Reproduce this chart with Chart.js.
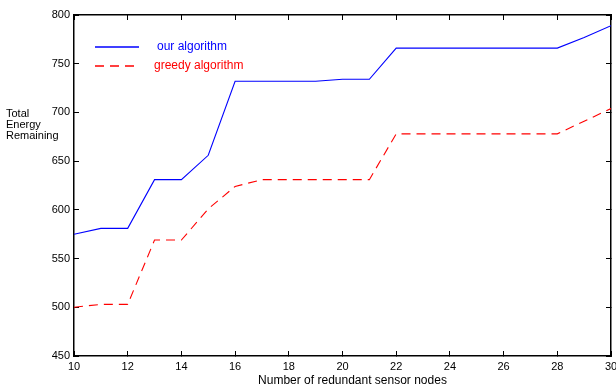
<!DOCTYPE html>
<html><head><meta charset="utf-8">
<script src="https://cdn.jsdelivr.net/npm/chart.js@4/dist/chart.umd.min.js"></script>
<style>html,body{margin:0;padding:0;background:#fff}#wrap{width:616px;height:388px;position:relative}</style>
</head><body><div id="wrap"><canvas id="c"></canvas></div>
<script>
const nodes = [10,11,12,13,14,15,16,17,18,19,20,21,22,23,24,25,26,27,28,29,30];
const ourAlgorithm = [575,581,581,631,631,656,732,732,732,732,734,734,766,766,766,766,766,766,766,777,789];
const greedyAlgorithm = [500,503,503,569,569,601,624,631,631,631,631,631,678,678,678,678,678,678,678,691,704];
const seriesLabels = ['our algorithm','greedy algorithm'];
const xTicks = [10,12,14,16,18,20,22,24,26,28,30];
const yTicks = [450,500,550,600,650,700,750,800];
const yTitleLines = ['Total','Energy','Remaining'];
const xTitle = 'Number of redundant sensor nodes';

const FONT = "'Liberation Sans', Arial, Helvetica, sans-serif";
Chart.defaults.font.family = FONT;
Chart.defaults.color = '#000';

const gridOpts = {drawOnChartArea:false, drawTicks:true, tickLength:-5, color:'#000', lineWidth:1};
const borderOpts = {display:true, color:'#000', width:1.5};

const legendPlugin = {
  id:'inlineLegend',
  afterDatasetsDraw(chart){
    const ctx = chart.ctx;
    const rows = [{y:47, tx:157},{y:66, tx:154}];
    chart.data.datasets.forEach((ds,i)=>{
      const r = rows[i];
      ctx.save();
      ctx.strokeStyle = ds.borderColor;
      ctx.lineWidth = 1.3;
      ctx.setLineDash(ds.borderDash || []);
      ctx.beginPath(); ctx.moveTo(95, r.y); ctx.lineTo(139, r.y); ctx.stroke();
      ctx.setLineDash([]);
      ctx.fillStyle = ds.borderColor;
      ctx.font = "12px " + FONT;
      ctx.textBaseline = 'middle';
      ctx.textAlign = 'left';
      ctx.fillText(ds.label, r.tx, r.y);
      ctx.restore();
    });
  }
};
const titlesPlugin = {
  id:'axisTitles',
  afterDraw(chart){
    const ctx = chart.ctx;
    ctx.save();
    ctx.fillStyle = '#000';
    ctx.font = "11px " + FONT;
    ctx.textBaseline = 'middle';
    ctx.textAlign = 'left';
    yTitleLines.forEach((t,i)=> ctx.fillText(t, 6, 114 + i*11));
    ctx.font = "12px " + FONT;
    ctx.textAlign = 'center';
    const xs = chart.scales.x;
    ctx.fillText(xTitle, (xs.left + xs.right)/2 + 10, 381);
    ctx.restore();
  }
};

const setX = s => { s.ticks = xTicks.map(v=>({value:v})); };
const setY = s => { s.ticks = yTicks.map(v=>({value:v})); };

new Chart(document.getElementById('c'), {
  type:'line',
  data:{
    datasets:[
      {label:seriesLabels[0], data:nodes.map((x,i)=>({x, y:ourAlgorithm[i]})), borderColor:'#0000ff', borderWidth:1.1, pointRadius:0, tension:0, fill:false},
      {label:seriesLabels[1], data:nodes.map((x,i)=>({x, y:greedyAlgorithm[i]})), borderColor:'#ff0000', borderWidth:1.1, borderDash:[9,6], pointRadius:0, tension:0, fill:false}
    ]
  },
  options:{
    responsive:true, maintainAspectRatio:false, animation:false,
    layout:{padding:{top:15, right:5, bottom:0, left:0}},
    plugins:{legend:{display:false}, tooltip:{enabled:false}},
    scales:{
      x:{type:'linear', position:'bottom', min:10, max:30,
        afterBuildTicks:setX,
        ticks:{color:'#000', font:{size:11}, padding:9, maxRotation:0, autoSkip:false},
        grid:gridOpts, border:borderOpts,
        title:{display:false},
        afterFit(s){ s.height = 32; s.paddingLeft = 0; s.paddingRight = 0; }
      },
      x2:{type:'linear', position:'top', min:10, max:30,
        afterBuildTicks:setX,
        ticks:{display:false},
        grid:gridOpts, border:borderOpts,
        afterFit(s){ s.height = 0; s.paddingLeft = 0; s.paddingRight = 0; }
      },
      y:{type:'linear', position:'left', min:450, max:800,
        afterBuildTicks:setY,
        ticks:{color:'#000', font:{size:11}, padding:9},
        grid:gridOpts, border:borderOpts,
        afterFit(s){ s.width = 74; s.paddingTop = 0; s.paddingBottom = 0; }
      },
      y2:{type:'linear', position:'right', min:450, max:800,
        afterBuildTicks:setY,
        ticks:{display:false},
        grid:gridOpts, border:borderOpts,
        afterFit(s){ s.width = 0; s.paddingTop = 0; s.paddingBottom = 0; }
      }
    }
  },
  plugins:[legendPlugin, titlesPlugin]
});
</script></body></html>
